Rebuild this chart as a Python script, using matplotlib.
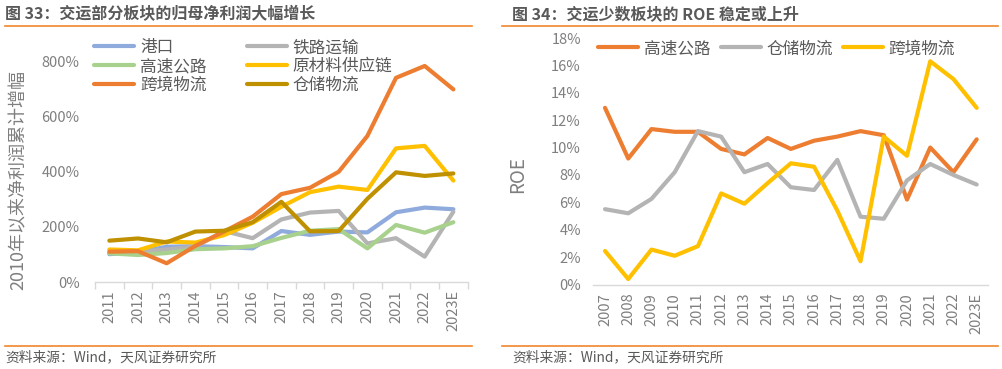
import matplotlib
matplotlib.use('Agg')
import matplotlib.pyplot as plt
from matplotlib.lines import Line2D
from matplotlib.ticker import FuncFormatter, FixedLocator
import numpy as np

plt.rcParams['font.family'] = ['Noto Sans CJK SC', 'DejaVu Sans']

# 图33 数据 (2010年以来净利润累计增幅, %)
years_l = ['2011', '2012', '2013', '2014', '2015', '2016', '2017',
           '2018', '2019', '2020', '2021', '2022', '2023E']
gangkou = [101, 108, 128, 130, 127, 122, 185, 171, 183, 180, 253, 270, 264]
tielu = [105, 110, 118, 128, 185, 159, 227, 252, 258, 140, 159, 92, 255]
gaosu = [104, 98, 105, 119, 122, 130, 160, 186, 192, 122, 207, 179, 217]
yuancailiao = [118, 115, 147, 143, 170, 215, 273, 326, 346, 334, 485, 494, 368]
kuajing = [110, 112, 68, 131, 183, 237, 319, 342, 400, 530, 741, 784, 699]
cangchu = [150, 158, 144, 183, 186, 217, 291, 184, 185, 302, 398, 385, 394]

# 图34 数据 (ROE, %)
years_r = ['2007', '2008', '2009', '2010', '2011', '2012', '2013', '2014', '2015',
           '2016', '2017', '2018', '2019', '2020', '2021', '2022', '2023E']
roe_gaosu = [12.9, 9.2, 11.35, 11.15, 11.15, 9.9, 9.5, 10.7, 9.9,
             10.5, 10.8, 11.2, 10.9, 6.2, 10.0, 8.2, 10.6]
roe_cangchu = [5.5, 5.2, 6.25, 8.2, 11.2, 10.8, 8.2, 8.8, 7.1,
               6.9, 9.1, 4.95, 4.8, 7.6, 8.8, 8.0, 7.3]
roe_kuajing = [2.45, 0.4, 2.55, 2.1, 2.8, 6.65, 5.9, 7.4, 8.85,
               8.6, 5.4, 1.7, 10.8, 9.4, 16.3, 15.0, 12.9]

c_blue = '#8FAADC'
c_gray = '#B4B4B4'
c_green = '#A9D18E'
c_yellow = '#FFC000'
c_orange = '#ED7D31'
c_gold = '#BF9000'
txt = '#7F7F7F'
lw = 3.0

fig = plt.figure(figsize=(10.03, 3.69), dpi=100)

# 标题、分隔线、资料来源
fig.text(5 / 1003, 1 - 14 / 369, '图 33：交运部分板块的归母净利润大幅增长', fontsize=11.5,
         color='#595959', fontweight='bold', va='center', ha='left')
fig.text(512 / 1003, 1 - 14 / 369, '图 34：交运少数板块的 ROE 稳定或上升', fontsize=11.5,
         color='#595959', fontweight='bold', va='center', ha='left')
for y in (26, 346):
    fig.add_artist(Line2D([5 / 1003, 472 / 1003], [1 - y / 369] * 2, color='#F0882B', lw=1.2))
    fig.add_artist(Line2D([502 / 1003, 998 / 1003], [1 - y / 369] * 2, color='#F0882B', lw=1.2))
fig.text(5 / 1003, 1 - 357 / 369, '资料来源：Wind，天风证券研究所', fontsize=9.9,
         color='#595959', va='center', ha='left')
fig.text(512 / 1003, 1 - 357 / 369, '资料来源：Wind，天风证券研究所', fontsize=9.9,
         color='#595959', va='center', ha='left')

# ---- 左图 ----
ax1 = fig.add_axes([95 / 1003, 1 - 282 / 369, (467.7 - 95) / 1003, (282 - 34) / 369])
x1 = np.arange(len(years_l))
series_l = [('港口', gangkou, c_blue), ('铁路运输', tielu, c_gray),
            ('高速公路', gaosu, c_green), ('原材料供应链', yuancailiao, c_yellow),
            ('跨境物流', kuajing, c_orange), ('仓储物流', cangchu, c_gold)]
handles = {}
for name, vals, col in series_l:
    h, = ax1.plot(x1, vals, color=col, lw=lw, solid_capstyle='round', solid_joinstyle='round')
    handles[name] = h
ax1.set_xlim(-0.5, len(years_l) - 0.5)
ax1.set_ylim(0, 900)
ax1.yaxis.set_major_locator(FixedLocator([0, 200, 400, 600, 800]))
ax1.yaxis.set_major_formatter(FuncFormatter(lambda v, p: f'{int(v)}%'))
ax1.set_xticks(x1)
ax1.set_xticklabels(years_l, rotation=90)
ax1.set_xticks(np.arange(-0.5, len(years_l)), minor=True)
ax1.tick_params(axis='x', which='major', length=0, pad=6, labelsize=10.5, labelcolor=txt)
ax1.tick_params(axis='x', which='minor', length=5, color='#D9D9D9', width=1)
ax1.tick_params(axis='y', length=0, labelsize=10.5, labelcolor=txt, pad=11)
for s in ('top', 'right', 'left'):
    ax1.spines[s].set_visible(False)
ax1.spines['bottom'].set_color('#D9D9D9')
ax1.spines['bottom'].set_linewidth(1)
ax1.set_ylabel('2010年以来净利润累计增幅', fontsize=13, color=txt)
ax1.yaxis.set_label_coords(-0.18, 0.41)
order = ['港口', '高速公路', '跨境物流', '铁路运输', '原材料供应链', '仓储物流']
ax1.legend([handles[n] for n in order], order, ncol=2, loc='upper left',
           bbox_to_anchor=(86 / 1003, 1 - 31 / 369), bbox_transform=fig.transFigure,
           frameon=False, fontsize=12, handlelength=2.4, handletextpad=0.35,
           columnspacing=2.4, labelspacing=0.1, labelcolor='#595959', borderpad=0)

# ---- 右图 ----
ax2 = fig.add_axes([593.4 / 1003, 1 - 284.5 / 369, (988.3 - 593.4) / 1003, (284.5 - 38) / 369])
x2 = np.arange(len(years_r))
h1, = ax2.plot(x2, roe_gaosu, color=c_orange, lw=lw, solid_capstyle='round', solid_joinstyle='round')
h2, = ax2.plot(x2, roe_cangchu, color=c_gray, lw=lw, solid_capstyle='round', solid_joinstyle='round')
h3, = ax2.plot(x2, roe_kuajing, color=c_yellow, lw=lw, solid_capstyle='round', solid_joinstyle='round')
ax2.set_xlim(-0.5, len(years_r) - 0.5)
ax2.set_ylim(0, 18)
ax2.set_yticks(np.arange(0, 19, 2))
ax2.yaxis.set_major_formatter(FuncFormatter(lambda v, p: f'{int(v)}%'))
ax2.set_xticks(x2)
ax2.set_xticklabels(years_r, rotation=90)
ax2.tick_params(axis='x', length=0, pad=6, labelsize=10.5, labelcolor=txt)
ax2.tick_params(axis='y', length=0, labelsize=10.5, labelcolor=txt, pad=9)
for s in ('top', 'right', 'left'):
    ax2.spines[s].set_visible(False)
ax2.spines['bottom'].set_color('#D9D9D9')
ax2.spines['bottom'].set_linewidth(1)
ax2.set_ylabel('ROE', fontsize=13.5, color=txt)
ax2.yaxis.set_label_coords((528 - 593.4) / (988.3 - 593.4), (284.5 - 175) / (284.5 - 38))
ax2.legend([h1, h2, h3], ['高速公路', '仓储物流', '跨境物流'], ncol=3, loc='upper left',
           bbox_to_anchor=(590 / 1003, 1 - 32 / 369), bbox_transform=fig.transFigure,
           frameon=False, fontsize=12, handlelength=2.4, handletextpad=0.35,
           columnspacing=0.6, labelcolor='#595959', borderpad=0)

fig.savefig('out.png', dpi=100)
